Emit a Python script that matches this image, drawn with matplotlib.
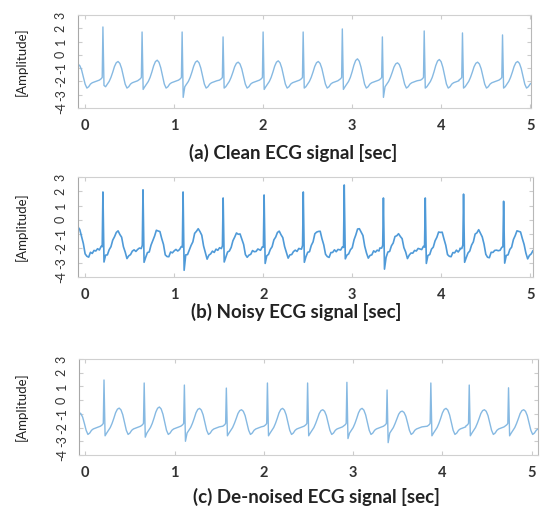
import numpy as np
import matplotlib
matplotlib.use("Agg")
from matplotlib import pyplot as plt

# knot offsets (sec) around each R peak and the reference beat shape
knot_dt = [-0.04, -0.02, -0.008, 0.0, 0.012, 0.03, 0.05, 0.07, 0.09, 0.11, 0.13, 0.15,
           0.17, 0.19, 0.21, 0.23, 0.25, 0.27, 0.29, 0.31, 0.33, 0.35, 0.37, 0.39]
knot_base = [-1.9, -1.8, -1.7, 1.7, -2.6, -2.4, -2.2, -2.0, -1.7, -1.3, -0.85, -0.55,
             -0.45, -0.6, -1.0, -1.6, -2.2, -2.5, -2.4, -2.2, -2.1, -2.05, -2.0, -1.95]
t_weight = [0, 0, 0, 0, 0, 0, 0, 0, 0, 0.2, 0.5, 0.85, 1, 0.85, 0.5, 0.2, 0, 0, 0, 0, 0, 0, 0, 0]

# (a) clean
beats_a = [-0.25, 0.20, 0.64, 1.09, 1.55, 2.00, 2.45, 2.89, 3.34, 3.81, 4.24, 4.69]
r_a = [1.7, 2.1, 1.72, 1.72, 1.35, 1.72, 1.72, 1.95, 1.35, 1.8, 1.65, 1.5]
s_a = [-2.6, -2.3, -2.6, -3.2, -2.5, -2.6, -2.5, -2.6, -3.2, -2.5, -2.5, -2.5]
t_a = [-0.7, -0.5, -0.4, -0.45, -0.55, -0.45, -0.5, -0.3, -0.6, -0.35, -0.55, -0.5]

# (b) noisy
beats_b = [-0.25, 0.20, 0.65, 1.10, 1.55, 2.01, 2.45, 2.91, 3.35, 3.82, 4.25, 4.70]
r_b = [1.8, 1.95, 2.1, 1.95, 1.53, 1.74, 1.95, 2.44, 1.53, 1.53, 1.8, 1.3]
s_b = [-3.0, -2.9, -3.0, -3.5, -3.0, -3.0, -3.0, -2.7, -3.5, -3.0, -3.0, -3.0]
t_b = [-0.4, -0.7, -0.6, -0.5, -0.8, -0.7, -0.6, -0.5, -0.9, -0.7, -0.6, -0.6]
noise_b = [
    [0.06, -0.08, 0.03, 0, 0.05, -0.1, 0.08, -0.05, 0.1, -0.03, 0.06, -0.08, 0.05, 0.03, -0.06, 0.08, -0.03, 0.1, -0.06, 0.08, -0.1, 0.06, -0.03, 0.08],
    [-0.06, 0.1, -0.03, 0, -0.05, 0.08, -0.1, 0.06, -0.03, 0.08, -0.06, 0.03, 0.08, -0.06, 0.06, -0.08, 0.1, -0.06, 0.03, -0.08, 0.06, 0.1, -0.06, 0.03],
    [0.08, -0.06, 0.06, 0, 0.03, -0.08, 0.06, -0.1, 0.08, 0.03, -0.06, 0.1, -0.03, 0.06, -0.08, 0.06, -0.1, 0.08, -0.03, 0.1, -0.06, 0.03, 0.08, -0.08],
    [-0.03, 0.08, -0.06, 0, -0.03, 0.1, -0.08, 0.03, 0.06, -0.08, 0.08, -0.06, 0.03, -0.03, 0.1, -0.06, 0.06, -0.1, 0.08, -0.03, 0.06, -0.08, 0.1, -0.03],
    [0.1, -0.06, 0.03, 0, 0.05, -0.06, 0.1, -0.03, -0.08, 0.06, -0.03, 0.08, -0.06, 0.06, -0.03, 0.1, -0.08, 0.03, 0.08, -0.06, 0.1, -0.03, -0.06, 0.06],
    [-0.08, 0.06, -0.06, 0, -0.05, 0.03, -0.06, 0.08, -0.03, 0.1, -0.08, 0.03, 0.06, -0.08, 0.03, -0.06, 0.08, -0.03, 0.1, -0.08, 0.03, 0.08, -0.06, 0.1],
    [0.03, -0.1, 0.06, 0, 0.03, -0.03, 0.08, -0.08, 0.06, -0.06, 0.1, -0.03, -0.06, 0.08, -0.1, 0.03, -0.06, 0.08, -0.08, 0.06, -0.03, 0.1, -0.08, 0.03],
    [-0.06, 0.06, -0.08, 0, -0.03, 0.08, -0.03, 0.06, -0.1, 0.06, -0.03, 0.1, 0.03, -0.06, 0.08, -0.08, 0.03, -0.03, 0.06, -0.1, 0.08, -0.06, 0.03, -0.08],
    [0.08, -0.03, 0.06, 0, 0.05, -0.08, 0.1, -0.06, 0.03, -0.08, 0.06, -0.03, 0.08, -0.03, 0.06, -0.1, 0.1, -0.06, 0.08, 0.03, -0.08, 0.06, -0.03, 0.1],
    [-0.03, 0.1, -0.06, 0, -0.05, 0.06, -0.08, 0.1, -0.06, 0.03, -0.1, 0.06, -0.03, 0.1, -0.06, 0.03, -0.08, 0.1, -0.03, 0.06, -0.06, 0.08, -0.1, 0.03],
    [0.06, -0.06, 0.08, 0, 0.03, -0.1, 0.03, -0.03, 0.08, -0.06, 0.08, -0.08, 0.06, -0.06, 0.03, 0.08, -0.06, 0.03, -0.1, 0.08, -0.03, 0.06, 0.03, -0.06],
    [-0.08, 0.03, -0.03, 0, -0.03, 0.06, -0.1, 0.08, -0.06, 0.1, -0.03, 0.06, -0.06, 0.03, -0.08, 0.06, 0.03, -0.08, 0.06, -0.03, 0.1, -0.06, 0.08, -0.03],
]

# (c) de-noised
beats_c = [-0.24, 0.21, 0.66, 1.11, 1.58, 2.04, 2.49, 2.93, 3.38, 3.87, 4.30, 4.74]
r_c = [1.2, 1.47, 1.25, 1.1, 0.88, 1.25, 1.25, 1.3, 0.74, 1.25, 1.1, 0.9]
s_c = [-2.7, -2.6, -2.7, -3.0, -2.6, -2.6, -2.6, -2.8, -3.1, -2.6, -2.6, -2.6]
t_c = [-0.9, -0.58, -0.5, -0.6, -0.7, -0.6, -0.7, -0.6, -0.8, -0.6, -0.7, -0.7]

titles = ["(a) Clean ECG signal [sec]", "(b) Noisy ECG signal [sec]",
          "(c) De-noised ECG signal [sec]"]
xticks = [0, 1, 2, 3, 4, 5]
yticks = [-4, -3, -2, -1, 0, 1, 2, 3]


def build(beats, r, s, t, offset=0.0, noise=None):
    xs, ys = [], []
    for i in range(len(beats)):
        for k in range(len(knot_dt)):
            v = knot_base[k] + t_weight[k] * (t[i] - knot_base[12])
            if k == 3:
                v = r[i]
            if k == 4:
                v = s[i]
            if k != 3 and k != 4:
                v = v + offset
            if noise is not None:
                v = v + noise[i][k]
            xs.append(beats[i] + knot_dt[k])
            ys.append(v)
    return np.array(xs), np.array(ys)


plt.rcParams['font.family'] = ['Lato', 'DejaVu Sans']
fig = plt.figure(figsize=(5.43, 5.09), dpi=100)
W, H = 543.0, 509.0

# px boxes: left, top, right, bottom
boxes = [(78, 15, 531, 108), (78, 177, 533, 277), (79, 359, 538, 455)]
xlims = [(-0.08, 5.01), (-0.08, 5.03), (-0.07, 5.07)]
title_pos = [(293, 153), (296, 312), (316, 497)]

sigs = [build(beats_a, r_a, s_a, t_a),
        build(beats_b, r_b, s_b, t_b, offset=-0.15, noise=noise_b),
        build(beats_c, r_c, s_c, t_c)]
colors = ["#86b9e2", "#4f9ad8", "#86b9e2"]
widths = [1.0, 1.2, 1.0]

for i in range(3):
    l, tp, r_, b = boxes[i]
    ax = fig.add_axes([l / W, 1 - b / H, (r_ - l) / W, (b - tp) / H])
    x, y = sigs[i]
    ax.plot(x, y, color=colors[i], lw=widths[i])
    ax.set_xlim(*xlims[i])
    ax.set_ylim(-4, 3)
    ax.set_xticks(xticks)
    ax.set_yticks(yticks)
    ax.set_xticklabels([str(v) for v in xticks], fontsize=10.5, fontweight='bold', color='#333333')
    ax.set_yticklabels([str(v) for v in yticks], fontsize=9, color='#333333', rotation=90, va='center')
    ax.tick_params(direction='in', top=True, right=True, length=3, color='#cccccc', pad=8)
    ax.tick_params(axis='x', pad=8)
    for sp in ax.spines.values():
        sp.set_color('#d0d0d0')
        sp.set_linewidth(0.8)
    ax.spines['left'].set_color('#a8a8a8')
    ax.spines['right'].set_color('#b8b8b8')
    ax.set_ylabel("[Amplitude]", fontsize=9.5, color='#222222')
    ax.yaxis.set_label_coords(-(l - 28) / (r_ - l), 0.5)
    fig.text(title_pos[i][0] / W, 1 - title_pos[i][1] / H, titles[i], ha='center', va='center',
             fontsize=13.5, fontweight='bold', color='#222222')

fig.savefig("out.png", dpi=100)
